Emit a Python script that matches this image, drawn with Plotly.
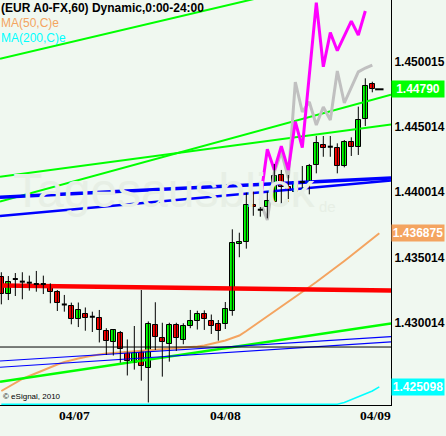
import plotly.graph_objects as go

# ---------------- data ----------------
opens = [1.43349, 1.43219, 1.43336, 1.43316, 1.43308, 1.43298, 1.43298, 1.43265, 1.43234, 1.43141,
         1.43126, 1.43028, 1.43067, 1.43047, 1.43041, 1.42938, 1.42851, 1.42920, 1.42775, 1.42696,
         1.42775, 1.42657, 1.42984, 1.42882, 1.42837, 1.42981, 1.42869, 1.42974, 1.43012, 1.43068,
         1.43018, 1.42989, 1.42989, 1.43091, 1.43605, 1.43618, 1.43902, 1.43867, 1.43890, 1.43929,
         1.44131, 1.44039, 1.44005, 1.44080, 1.44074, 1.44208, 1.44363, 1.44350, 1.44338, 1.44205,
         1.44386, 1.44346, 1.44560, 1.44831]
highs = [1.43388, 1.43359, 1.43382, 1.43388, 1.43362, 1.43398, 1.43362, 1.43303, 1.43252, 1.43214,
         1.43155, 1.43156, 1.43118, 1.43086, 1.43099, 1.42959, 1.42953, 1.42938, 1.42873, 1.42976,
         1.43252, 1.43011, 1.43158, 1.43001, 1.43001, 1.43001, 1.42997, 1.43099, 1.43093, 1.43096,
         1.43064, 1.43022, 1.43160, 1.43717, 1.43691, 1.43998, 1.44005, 1.43955, 1.44005, 1.44218,
         1.44172, 1.44133, 1.44133, 1.44202, 1.44218, 1.44432, 1.44432, 1.44432, 1.44376, 1.44401,
         1.44422, 1.44657, 1.44874, 1.44848]
lows = [1.43142, 1.43175, 1.43206, 1.43181, 1.43247, 1.43239, 1.43221, 1.43150, 1.43091, 1.43086,
        1.42989, 1.42968, 1.42940, 1.42930, 1.42850, 1.42754, 1.42750, 1.42695, 1.42597, 1.42642,
        1.42557, 1.42390, 1.42792, 1.42588, 1.42703, 1.42785, 1.42836, 1.42959, 1.42949, 1.42946,
        1.42915, 1.42864, 1.42953, 1.43055, 1.43503, 1.43569, 1.43821, 1.43814, 1.43801, 1.43911,
        1.43903, 1.43929, 1.43936, 1.44013, 1.43985, 1.44146, 1.44273, 1.44273, 1.44146, 1.44192,
        1.44279, 1.44287, 1.44509, 1.44767]
closes = [1.43219, 1.43316, 1.43336, 1.43316, 1.43308, 1.43298, 1.43298, 1.43239, 1.43150, 1.43141,
          1.43026, 1.43097, 1.43035, 1.43047, 1.42949, 1.42861, 1.42942, 1.42798, 1.42706, 1.42767,
          1.42673, 1.42991, 1.42890, 1.42856, 1.42982, 1.42882, 1.42974, 1.43012, 1.43068, 1.43028,
          1.42974, 1.42940, 1.43104, 1.43610, 1.43620, 1.43903, 1.43886, 1.43867, 1.43932, 1.44126,
          1.44044, 1.44013, 1.44077, 1.44080, 1.44202, 1.44381, 1.44342, 1.44350, 1.44205, 1.44386,
          1.44350, 1.44555, 1.44815, 1.44790]

ma50 = [1.42478, 1.42509, 1.42539, 1.42570, 1.42593, 1.42616, 1.42639, 1.42662, 1.42681, 1.42700,
        1.42716, 1.42727, 1.42739, 1.42750, 1.42758, 1.42765, 1.42769, 1.42773, 1.42777, 1.42781,
        1.42785, 1.42788, 1.42792, 1.42795, 1.42798, 1.42802, 1.42806, 1.42811, 1.42819, 1.42827,
        1.42838, 1.42850, 1.42865, 1.42884, 1.42903, 1.42938, 1.42976, 1.43014, 1.43053, 1.43091,
        1.43129, 1.43168, 1.43206, 1.43241, 1.43275, 1.43313, 1.43352, 1.43390, 1.43432, 1.43474,
        1.43516, 1.43559, 1.43605, 1.43647, 1.436875]
ma200 = [1.42377] * 49 + [1.42390, 1.42413, 1.42432, 1.42455, 1.42478, 1.425098]

magenta_idx = [37, 38, 39, 40, 41, 42, 43, 45, 46, 47, 48, 50, 51, 52]
magenta_val = [1.43942, 1.44330, 1.44172, 1.44355, 1.44172, 1.44542, 1.44344, 1.45454, 1.44963,
               1.45224, 1.45086, 1.45313, 1.45206, 1.45390]
grey_idx = [37, 38, 39, 40, 41, 42, 43, 44, 45, 46, 47, 48, 49, 50, 51, 52, 53]
grey_val = [1.43926, 1.43788, 1.44156, 1.44310, 1.44110, 1.44846, 1.44616, 1.44693, 1.44516, 1.44654,
            1.44555, 1.44930, 1.44685, 1.44800, 1.44923, 1.44953, 1.44976]

# trend lines: price at left chart edge and at right chart edge
trend_start = [1.45024, 1.44120, 1.43929, 1.43962, 1.43819, 1.42549, 1.42708, 1.42660, 1.42815, 1.43287]
trend_end = [1.45729, 1.44520, 1.44749, 1.44110, 1.44091, 1.42996, 1.42895, 1.42854, 1.42815, 1.43248]

date_labels = ["04/07", "04/08", "04/09"]
date_idx = [8, 32, 56]
tick_vals = [1.450015, 1.445014, 1.440014, 1.435014, 1.430014]
tick_text = ["1.450015", "1.445014", "1.440014", "1.435014", "1.430014"]

last_price = 1.44790
ma50_last = 1.436875
ma200_last = 1.425098

# ---------------- styles ----------------
BG = "#F0F8F0"
FONT = "Liberation Sans, Arial, sans-serif"
trend_colors = ["#00FF00", "#00FF00", "#00FF00", "#0000FF", "#0000FF", "#00FF00", "#0000FF", "#0000FF", "#000000", "#FF0000"]
trend_widths = [2, 2, 2, 3.5, 2.5, 2.5, 1.2, 1.2, 1, 4.5]
X_LEFT, X_RIGHT = -0.19, 55.67
Y_RANGE = [1.423707, 1.454743]

fig = go.Figure()

# moving averages
fig.add_trace(go.Scatter(x=list(range(len(ma200))), y=ma200, mode="lines",
                         line=dict(color="#00FFFF", width=1.5), hoverinfo="skip"))
fig.add_trace(go.Scatter(x=list(range(len(ma50))), y=ma50, mode="lines",
                         line=dict(color="#F4A460", width=2), hoverinfo="skip"))

# trend lines
for s, e, c, w in zip(trend_start, trend_end, trend_colors, trend_widths):
    fig.add_trace(go.Scatter(x=[X_LEFT, X_RIGHT], y=[s, e], mode="lines",
                             line=dict(color=c, width=w), hoverinfo="skip"))

# overlays
fig.add_trace(go.Scatter(x=grey_idx, y=grey_val, mode="lines",
                         line=dict(color="#C0C0C0", width=3), hoverinfo="skip"))
fig.add_trace(go.Scatter(x=magenta_idx, y=magenta_val, mode="lines",
                         line=dict(color="#FF00FF", width=3), hoverinfo="skip"))

# candles
idx = list(range(len(opens)))
wx, wy = [], []
for i, h, l in zip(idx, highs, lows):
    wx += [i, i, None]
    wy += [l, h, None]
fig.add_trace(go.Scatter(x=wx, y=wy, mode="lines", line=dict(color="black", width=1), hoverinfo="skip"))

bx, by, bb, bc = [], [], [], []
dx, dy = [], []
for i, o, c in zip(idx, opens, closes):
    if o == c:
        dx += [i - 0.36, i + 0.36, None]
        dy += [o, c, None]
    else:
        bx.append(i)
        by.append(abs(c - o))
        bb.append(min(o, c))
        bc.append("#00FF00" if c > o else "#FF0000")
fig.add_trace(go.Bar(x=bx, y=by, base=bb, width=0.64,
                     marker=dict(color=bc, line=dict(color="black", width=1)), hoverinfo="skip"))
fig.add_trace(go.Scatter(x=dx, y=dy, mode="lines", line=dict(color="black", width=2), hoverinfo="skip"))

# current price dash
fig.add_trace(go.Scatter(x=[len(opens)], y=[last_price], mode="markers",
                         marker=dict(symbol="line-ew", size=6, line=dict(color="black", width=2)),
                         hoverinfo="skip"))

ann = []
# header / legend texts
ann.append(dict(text="<b>(EUR A0-FX,60) Dynamic,0:00-24:00</b>", xref="paper", yref="paper", x=0, y=1,
                xanchor="left", yanchor="top", xshift=-1, yshift=1, showarrow=False,
                font=dict(family=FONT, size=12, color="black")))
ann.append(dict(text="MA(50,C)e", xref="paper", yref="paper", x=0, y=1, xanchor="left", yanchor="top",
                xshift=-1, yshift=-14, showarrow=False, font=dict(family=FONT, size=12, color="#F4A460")))
ann.append(dict(text="MA(200,C)e", xref="paper", yref="paper", x=0, y=1, xanchor="left", yanchor="top",
                xshift=-1, yshift=-29, showarrow=False, font=dict(family=FONT, size=12, color="#00FFFF")))
# copyright
ann.append(dict(text="© eSignal, 2010", xref="paper", yref="paper", x=0, y=0, xanchor="left", yanchor="bottom",
                xshift=1, yshift=2, showarrow=False, font=dict(family=FONT, size=8, color="black")))
# watermark
ann.append(dict(text="Tagesausblick", xref="paper", yref="paper", x=0.42, y=0.53, showarrow=False,
                font=dict(family=FONT, size=48, color="#E7EFE5")))
ann.append(dict(text="de", xref="paper", yref="paper", x=0.865, y=0.49, showarrow=False,
                font=dict(family=FONT, size=15, color="#E7EFE5")))
# dates (placed in paper coordinates so the last one may sit beyond the plot edge)
for lab, xi in zip(date_labels, date_idx):
    ann.append(dict(text="<b>" + lab + "</b>", x=(xi - X_LEFT) / (X_RIGHT - X_LEFT), xref="paper",
                    yref="paper", y=0, yanchor="top", yshift=-1, showarrow=False,
                    font=dict(family="Liberation Serif, Times New Roman, serif", size=13.5, color="black")))
# price boxes
for val, txt, col in [(last_price, "1.44790", "#00FF00"), (ma50_last, "1.436875", "#F4A460"),
                      (ma200_last, "1.425098", "#00FFFF")]:
    ann.append(dict(text="<b>" + txt + "</b>", xref="paper", yref="y", x=1, y=val, xanchor="left",
                    yanchor="middle", xshift=0, showarrow=False, bgcolor=col, borderpad=1,
                    width=50, height=14, align="center",
                    font=dict(family=FONT, size=12, color="white")))

fig.update_layout(
    width=446, height=436,
    margin=dict(l=0, r=55, t=0, b=31, autoexpand=False),
    paper_bgcolor=BG, plot_bgcolor=BG,
    showlegend=False, bargap=0,
    xaxis=dict(range=[X_LEFT, X_RIGHT], showgrid=False, zeroline=False, showticklabels=False,
               showline=True, linecolor="black", linewidth=1, ticks="", automargin=False),
    yaxis=dict(range=Y_RANGE, side="right", showgrid=False, zeroline=False, showline=True,
               linecolor="black", linewidth=1, ticks="", tickvals=tick_vals, automargin=False,
               ticktext=["<b>" + t + "</b>" for t in tick_text],
               tickfont=dict(family=FONT, size=12, color="black")),
    annotations=ann,
)

fig.write_html("out.html", config={"displayModeBar": False},
               post_script="document.body.style.margin='0';document.body.style.padding='0';"
                           "document.body.style.background='" + BG + "';")
